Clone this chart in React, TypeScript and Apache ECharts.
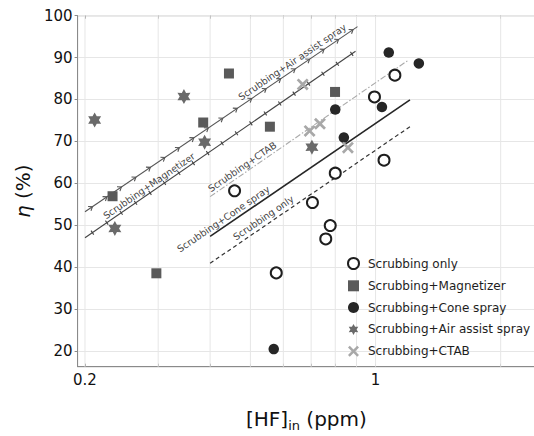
import React, { useEffect, useRef } from "react";
import * as echarts from "echarts";

// ---- data ----
const onlyX = [0.458, 0.705, 0.778, 0.759, 0.8, 0.577, 0.994, 1.113, 1.048];
const onlyY = [58.2, 55.4, 49.9, 46.7, 62.4, 38.6, 80.6, 85.8, 65.5];
const magX = [0.233, 0.297, 0.385, 0.444, 0.557, 0.799];
const magY = [56.9, 38.5, 74.5, 86.2, 73.5, 81.8];
const coneX = [0.569, 0.8, 0.839, 1.076, 1.036, 1.271];
const coneY = [20.4, 77.6, 70.9, 91.2, 78.2, 88.6];
const airX = [0.211, 0.346, 0.388, 0.236, 0.703];
const airY = [75.1, 80.7, 69.8, 49.2, 68.6];
const ctabX = [0.668, 0.694, 0.735, 0.858];
const ctabY = [83.6, 72.5, 74.2, 68.5];

const seriesNames = [
  "Scrubbing only",
  "Scrubbing+Magnetizer",
  "Scrubbing+Cone spray",
  "Scrubbing+Air assist spray",
  "Scrubbing+CTAB",
];

// fitted lines (end points)
const fitNames = [
  "Scrubbing+Air assist spray",
  "Scrubbing+Magnetizer",
  "Scrubbing+CTAB",
  "Scrubbing+Cone spray",
  "Scrubbing only",
];
const fitX0 = [0.2, 0.2, 0.4, 0.4, 0.4];
const fitY0 = [53.2, 47.0, 56.8, 47.3, 40.9];
const fitX1 = [0.905, 0.895, 1.2, 1.21, 1.21];
const fitY1 = [97.4, 91.5, 89.4, 79.9, 73.5];

// axis ticks
const xGridValues = [0.2, 0.3, 0.4, 0.5, 0.6, 0.7, 0.8, 0.9, 1, 2];
const xLabelValues = [0.2, 1];

// ---- styles ----
const FONT = '"DejaVu Sans", "Noto Sans", sans-serif';
const fitColor = ["#555", "#444", "#aaa", "#262626", "#333"];
const fitWidth = [1.1, 1.1, 1.1, 1.6, 1.2];
const fitDash: (number[] | undefined)[] = [undefined, undefined, [6, 2, 1.5, 2], undefined, [4, 3]];
const fitDeco = ["arrow", "tick", "", "", ""];
const fitLabelT = [0.776, 0.25, 0.18, 0.086, 0.2875];
const fitLabelOff = [7.5, 6.5, 6.5, 7, 7.5];

const starPath = (() => {
  const pts: string[] = [];
  for (let k = 0; k < 12; k++) {
    const r = k % 2 === 0 ? 10 : 5.6;
    const a = -Math.PI / 2 + (k * Math.PI) / 6;
    pts.push(`${(10 + r * Math.cos(a)).toFixed(2)},${(10 + r * Math.sin(a)).toFixed(2)}`);
  }
  return "path://M" + pts.join(" L") + " Z";
})();
const crossPath =
  "path://M0,1.6 L1.6,0 L5,3.4 L8.4,0 L10,1.6 L6.6,5 L10,8.4 L8.4,10 L5,6.6 L1.6,10 L0,8.4 L3.4,5 Z";

const zip = (xs: number[], ys: number[]) => xs.map((x, i) => [x, ys[i]]);

export default function App() {
  const ref = useRef<HTMLDivElement>(null);
  useEffect(() => {
    if (!ref.current) return;
    const chart = echarts.init(ref.current, null, { renderer: "svg" });
    const xAxisCommon = {
      type: "log",
      logBase: 10,
      min: 0.192,
      max: 3,
      splitLine: { show: false },
      minorSplitLine: { show: false },
    };
    const option: any = {
      animation: false,
      backgroundColor: "#fff",
      grid: {
        left: 77.6,
        top: 15.7,
        width: 496.3,
        height: 351,
        show: true,
        borderColor: "#8a8a8a",
        borderWidth: 1,
        outerBoundsMode: "none",
        containLabel: false,
      },
      legend: {
        orient: "vertical",
        left: 347,
        top: 257,
        padding: 0,
        itemWidth: 11,
        itemHeight: 11,
        itemGap: 9.8,
        data: seriesNames,
        textStyle: { fontFamily: FONT, fontSize: 12, color: "#1e1e1e", padding: [0, 0, 0, 4] },
      },
      xAxis: [
        {
          ...xAxisCommon,
          position: "bottom",
          axisLine: { show: true, lineStyle: { color: "#8a8a8a" } },
          axisTick: { show: true, inside: true, length: 3, customValues: xGridValues, lineStyle: { color: "#8a8a8a" } },
          axisLabel: {
            show: true,
            customValues: xLabelValues,
            margin: 6,
            fontFamily: FONT,
            fontSize: 15,
            color: "#111",
            formatter: (v: number) => String(Math.round(v * 10) / 10),
          },
        },
        {
          ...xAxisCommon,
          position: "top",
          axisLine: { show: false },
          axisTick: { show: true, inside: true, length: 3, customValues: xGridValues, lineStyle: { color: "#8a8a8a" } },
          axisLabel: { show: false },
        },
      ],
      yAxis: {
        type: "value",
        min: 16.2,
        max: 100,
        splitNumber: 8,
        minInterval: 10,
        maxInterval: 10,
        name: "{i|η} (%)",
        nameLocation: "middle",
        nameRotate: 90,
        nameGap: 43,
        nameTextStyle: {
          fontFamily: FONT,
          fontSize: 20,
          color: "#111",
          rich: { i: { fontFamily: FONT, fontSize: 20, fontStyle: "italic", color: "#111" } },
        },
        axisLine: { show: true, lineStyle: { color: "#8a8a8a" } },
        axisTick: { show: true, length: 3, lineStyle: { color: "#8a8a8a" } },
        axisLabel: { showMinLabel: false, margin: 5, fontFamily: FONT, fontSize: 15, color: "#111" },
        splitLine: { show: true, lineStyle: { color: "#e6e6e6", width: 1 } },
      },
      graphic: [
        {
          type: "text",
          left: 246,
          top: 409,
          style: {
            text: "[HF]{sub|in} (ppm)",
            fontFamily: FONT,
            fontSize: 20,
            fill: "#111",
            rich: {
              sub: { fontFamily: FONT, fontSize: 13, fill: "#111", padding: [12, 0, 0, 0] },
            },
          },
        },
      ],
      series: [
        {
          type: "custom",
          name: "xgrid",
          z: 1,
          silent: true,
          encode: { x: 0 },
          data: xGridValues.map((v) => [v]),
          renderItem: (params: any, api: any) => {
            const cs = params.coordSys;
            const x = api.coord([api.value(0), 50])[0];
            return {
              type: "line",
              shape: { x1: x, y1: cs.y, x2: x, y2: cs.y + cs.height },
              style: { stroke: "#e6e6e6", lineWidth: 1 },
            };
          },
        },
        {
          type: "custom",
          name: "fits",
          z: 2,
          silent: true,
          encode: { x: [0, 2], y: [1, 3] },
          data: fitNames.map((_, i) => [fitX0[i], fitY0[i], fitX1[i], fitY1[i]]),
          renderItem: (params: any, api: any) => {
            const i = params.dataIndex;
            const p0 = api.coord([api.value(0), api.value(1)]);
            const p1 = api.coord([api.value(2), api.value(3)]);
            const dx = p1[0] - p0[0];
            const dy = p1[1] - p0[1];
            const len = Math.hypot(dx, dy);
            const ux = dx / len;
            const uy = dy / len;
            const nx = uy;
            const ny = -ux;
            const children: any[] = [
              {
                type: "line",
                shape: { x1: p0[0], y1: p0[1], x2: p1[0], y2: p1[1] },
                style: { stroke: fitColor[i], lineWidth: fitWidth[i], lineDash: fitDash[i] },
              },
            ];
            if (fitDeco[i]) {
              for (let s = 9; s < len - 3; s += 17.5) {
                const px = p0[0] + ux * s;
                const py = p0[1] + uy * s;
                if (fitDeco[i] === "arrow") {
                  children.push({
                    type: "polyline",
                    shape: {
                      points: [
                        [px - ux * 3.5 + nx * 2.6, py - uy * 3.5 + ny * 2.6],
                        [px, py],
                        [px - ux * 3.5 - nx * 2.6, py - uy * 3.5 - ny * 2.6],
                      ],
                    },
                    style: { stroke: fitColor[i], lineWidth: 1.1, fill: null },
                  });
                } else {
                  children.push({
                    type: "line",
                    shape: { x1: px + nx * 2.4, y1: py + ny * 2.4, x2: px - nx * 2.4, y2: py - ny * 2.4 },
                    style: { stroke: fitColor[i], lineWidth: 1.1 },
                  });
                }
              }
            }
            const t = fitLabelT[i];
            const off = fitLabelOff[i];
            const cx = p0[0] + dx * t + nx * off;
            const cy = p0[1] + dy * t + ny * off;
            children.push({
              type: "text",
              x: cx,
              y: cy,
              rotation: Math.atan2(-dy, dx),
              style: {
                text: fitNames[i],
                fill: "#444",
                fontFamily: FONT,
                fontSize: 9.5,
                align: "center",
                verticalAlign: "middle",
                textAlign: "center",
                textVerticalAlign: "middle",
              },
            });
            return { type: "group", children };
          },
        },
        {
          type: "scatter",
          name: seriesNames[0],
          z: 3,
          symbol: "circle",
          symbolSize: 11,
          itemStyle: { color: "#fff", borderColor: "#1e1e1e", borderWidth: 2, opacity: 1 },
          data: zip(onlyX, onlyY),
        },
        {
          type: "scatter",
          name: seriesNames[1],
          z: 3,
          symbol: "rect",
          symbolSize: 10,
          itemStyle: { color: "#5a5a5a", opacity: 1 },
          data: zip(magX, magY),
        },
        {
          type: "scatter",
          name: seriesNames[2],
          z: 3,
          symbol: "circle",
          symbolSize: 10.5,
          itemStyle: { color: "#262626", opacity: 1 },
          data: zip(coneX, coneY),
        },
        {
          type: "scatter",
          name: seriesNames[3],
          z: 3,
          symbol: starPath,
          symbolKeepAspect: true,
          symbolSize: 15,
          itemStyle: { color: "#6a6a6a", opacity: 1 },
          data: zip(airX, airY),
        },
        {
          type: "scatter",
          name: seriesNames[4],
          z: 3,
          symbol: crossPath,
          symbolSize: 12,
          itemStyle: { color: "#a8a8a8", opacity: 1 },
          data: zip(ctabX, ctabY),
        },
      ],
    };
    chart.setOption(option);
    return () => chart.dispose();
  }, []);
  return (
    <div
      ref={ref}
      style={{ position: "absolute", left: 0, top: 0, width: 534, height: 436, background: "#fff" }}
    />
  );
}
